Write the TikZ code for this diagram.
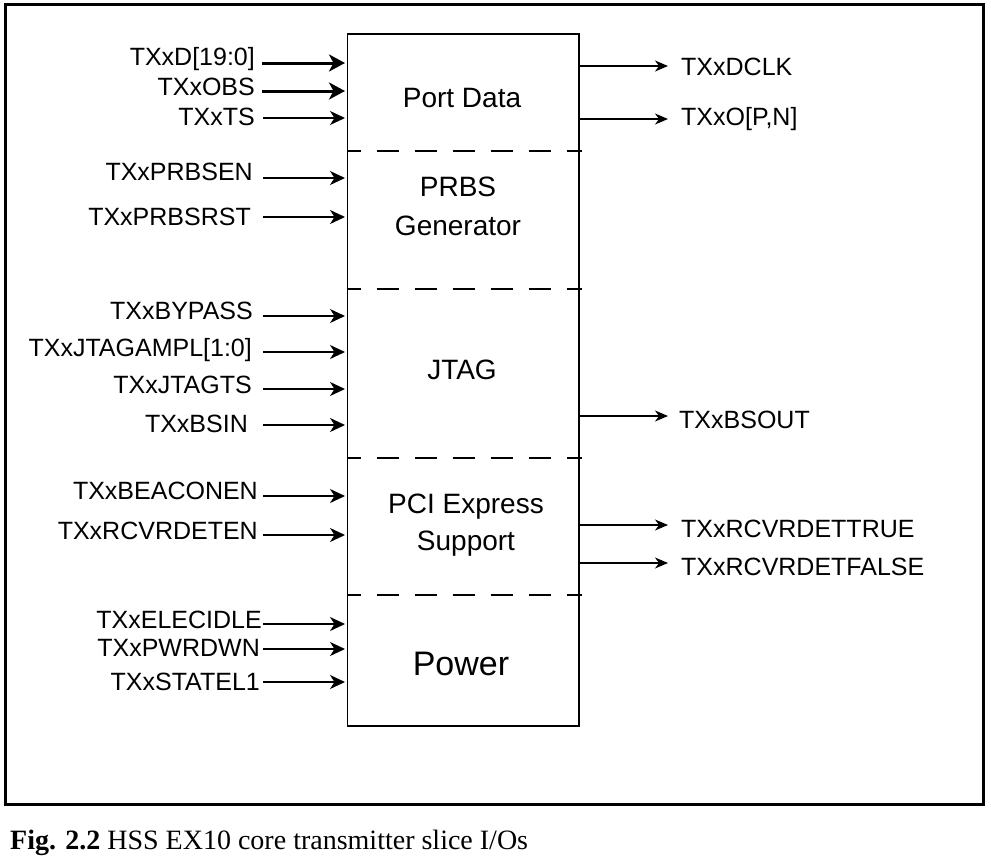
\documentclass[tikz,border=0pt]{standalone}
\usepackage{fontspec}
\setmainfont{Liberation Sans}
\newfontfamily\capfont{Liberation Serif}
\usetikzlibrary{arrows.meta}
\begin{document}
\begin{tikzpicture}[x=1pt,y=-1pt,
  lbl/.style={font=\fontsize{25}{30}\selectfont, inner sep=0pt},
  blklbl/.style={font=\fontsize{28}{34}\selectfont, inner sep=0pt, anchor=base},
  sig/.style={line width=1.3pt, -{Stealth[length=15pt,width=14pt,inset=4.5pt]}},
  bus/.style={line width=3pt, -{Stealth[length=16pt,width=17pt,inset=4.5pt]}},
  outsig/.style={line width=1.3pt, -{Stealth[length=13pt,width=11pt,inset=4pt]}},
  sepline/.style={line width=1.3pt, dash pattern=on 22pt off 16pt, dash phase=8pt}]
\useasboundingbox (0,0) rectangle (991,855);
% outer frame
\node[draw, line width=2.5pt, minimum width=978pt, minimum height=800pt, inner sep=0pt, anchor=north west] (frame) at (4,3) {};
% main block
\node[draw, line width=1.6pt, minimum width=231.5pt, minimum height=692pt, inner sep=0pt, anchor=north west] (blk) at (346.5,33) {};
% separators
\foreach \yy [count=\k] in {151,289,458,595} {
  \coordinate (sa\k) at (346.5,\yy);
  \coordinate (sb\k) at (582,\yy);
  \draw[sepline] (sa\k) -- (sb\k);
}
% block labels
\node[blklbl] (pd) at (462,107) {Port Data};
\node[blklbl] (prbs1) at (458,196) {PRBS};
\node[blklbl] (prbs2) at (458,235) {Generator};
\node[blklbl] (jtag) at (462,379) {JTAG};
\node[blklbl] (pci1) at (466,513) {PCI Express};
\node[blklbl] (pci2) at (466,550) {Support};
\node[blklbl, font=\fontsize{34}{40}\selectfont] (pwr) at (461,675) {Power};
% bus inputs
\foreach \t/\x/\b/\y [count=\i] in {{TXxD[19:0]}/255/65/63, {TXxOBS}/255/95/91} {
  \node[lbl, anchor=base east] (bl\i) at (\x,\b) {\t};
  \coordinate (bs\i) at (262,\y);
  \coordinate (be\i) at (345,\y);
  \draw[bus] (bs\i) -- (be\i);
}
% single inputs
\foreach \t/\x/\b/\y [count=\i] in {
  {TXxTS}/255/125/118,
  {TXxPRBSEN}/253/180.5/178,
  {TXxPRBSRST}/251/225/217,
  {TXxBYPASS}/253/319.5/316,
  {TXxJTAGAMPL[1:0]}/252/356/352,
  {TXxJTAGTS}/252/393/389,
  {TXxBSIN}/248/432/425,
  {TXxBEACONEN}/258/499.5/496,
  {TXxRCVRDETEN}/258/539/535,
  {TXxELECIDLE}/262/628/624,
  {TXxPWRDWN}/260/656.5/649,
  {TXxSTATEL1}/260/690.5/682} {
  \node[lbl, anchor=base east] (il\i) at (\x,\b) {\t};
  \coordinate (is\i) at (263,\y);
  \coordinate (ie\i) at (345,\y);
  \draw[sig] (is\i) -- (ie\i);
}
% outputs
\foreach \t/\x/\b/\y [count=\i] in {
  {TXxDCLK}/681/75/66,
  {TXxO[P,N]}/681/125/119,
  {TXxBSOUT}/679/428/416,
  {TXxRCVRDETTRUE}/681/537/525,
  {TXxRCVRDETFALSE}/681/575/563} {
  \node[lbl, anchor=base west] (ol\i) at (\x,\b) {\t};
  \coordinate (os\i) at (578,\y);
  \coordinate (oe\i) at (668,\y);
  \draw[outsig] (os\i) -- (oe\i);
}
% caption
\node[font=\capfont\fontsize{28}{34}\selectfont, anchor=base west, inner sep=0pt] (cap) at (10,849) {\textbf{Fig. 2.2} HSS EX10 core transmitter slice I/Os};
\end{tikzpicture}
\end{document}
